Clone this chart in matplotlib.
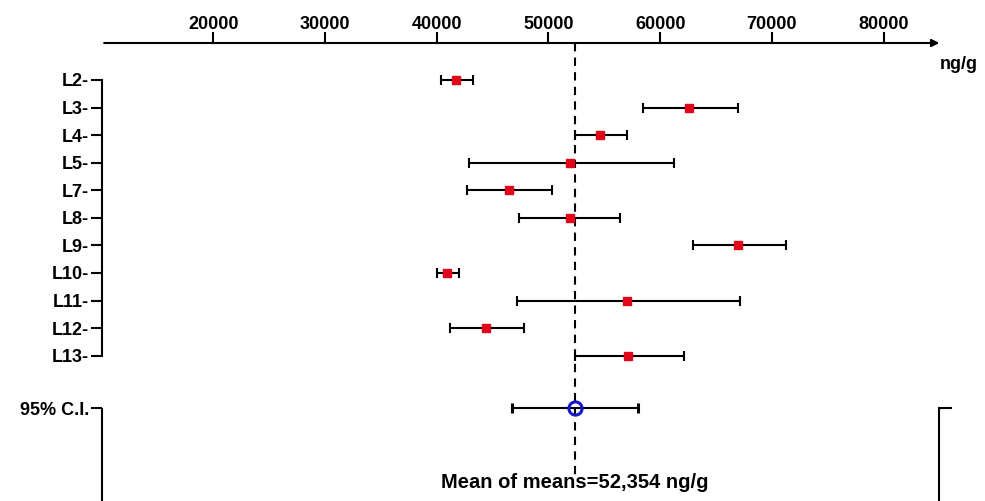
import matplotlib
matplotlib.use("Agg")
import matplotlib.pyplot as plt
import numpy as np
from matplotlib import font_manager

# ---- data ----
labs = ['L2', 'L3', 'L4', 'L5', 'L7', 'L8', 'L9', 'L10', 'L11', 'L12', 'L13']
means = [41700, 62600, 54600, 51900, 46500, 51900, 67000, 40900, 57000, 44400, 57150]
lows = [40360, 58500, 52350, 42900, 42700, 47350, 62950, 40000, 47200, 41150, 52400]
highs = [43220, 66950, 57050, 61200, 50350, 56450, 71250, 41950, 67150, 47800, 62150]
ci_label = '95% C.I.'
grand_mean = 52354
ci_low = 46700
ci_high = 58050
xticks = [20000, 30000, 40000, 50000, 60000, 70000, 80000]
unit = 'ng/g'

# ---- fonts ----
names = {f.name for f in font_manager.fontManager.ttflist}
base = 'Liberation Sans' if 'Liberation Sans' in names else 'DejaVu Sans'
narrow = 'Liberation Sans Narrow' if 'Liberation Sans Narrow' in names else base
plt.rcParams['font.family'] = [base, 'DejaVu Sans']

W, H = 985, 501
fig = plt.figure(figsize=(W / 100, H / 100), dpi=100)

# layout in pixels
x_left_px, x_right_px = 101.6, 939.4
top_px = 43
ax = fig.add_axes([x_left_px / W, 0, (x_right_px - x_left_px) / W, 1 - top_px / H])

row_pos = np.arange(len(labs), dtype=float)
ci_pos = 11.9
row0_px, step_px = 80.0, 27.57
y_top = (top_px - row0_px) / step_px
y_bot = (H - row0_px) / step_px
ax.set_xlim(10000, 85000)
ax.set_ylim(y_bot, y_top)

m = np.array(means, float)
lo = np.array(lows, float)
hi = np.array(highs, float)

ax.errorbar(m, row_pos, xerr=[m - lo, hi - m], fmt='s', ms=6, mfc='#e0061a', mec='#e0061a',
            ecolor='black', elinewidth=1.5, capsize=3.6, capthick=1.5, zorder=3)
ax.errorbar([grand_mean], [ci_pos], xerr=[[grand_mean - ci_low], [ci_high - grand_mean]], fmt='o',
            ms=9.5, mfc='none', mec='#1414c8', mew=2.2, ecolor='black', elinewidth=1.5,
            capsize=3.6, capthick=1.5, zorder=3)

# mean dashed line and label
text_pos = (483 - row0_px) / step_px
ax.vlines(grand_mean, y_top, text_pos - 0.3, colors='black', linestyles=(0, (4, 3)), lw=1.5, zorder=2)
ax.text(grand_mean, text_pos, f'Mean of means={grand_mean:,} {unit}', ha='center', va='center',
        fontsize=14.5 if narrow == base else 17, fontweight='bold',
        family=[narrow, 'DejaVu Sans'])

# spines
for s in ['top', 'bottom', 'right']:
    ax.spines[s].set_visible(False)
ax.spines['left'].set_bounds(row_pos[0], row_pos[-1])
ax.spines['left'].set_linewidth(1.5)
ax.plot([0, 0], [ci_pos, y_bot], transform=ax.get_yaxis_transform(), color='black', lw=1.5,
        clip_on=False, solid_capstyle='butt')

# top axis with arrow
ax.xaxis.tick_top()
ax.set_xticks(xticks)
ax.set_xticklabels([str(t) for t in xticks], fontsize=13, fontweight='bold')
ax.tick_params(axis='x', direction='out', length=8, width=1.5, pad=-0.5)
ax.annotate('', xy=(1.0, 1.0), xytext=(0.003, 1.0), xycoords='axes fraction',
            arrowprops=dict(arrowstyle='-|>', lw=1.5, color='black', mutation_scale=11,
                            shrinkA=0, shrinkB=0), annotation_clip=False)
ax.text(1.0, (65 - row0_px) / step_px, unit, transform=ax.get_yaxis_transform(), ha='left',
        va='center', fontsize=13, fontweight='bold')

# y ticks
ax.set_yticks(list(row_pos) + [ci_pos])
ax.set_yticklabels([l + '-' for l in labs] + [ci_label], fontsize=13, fontweight='bold')
ax.tick_params(axis='y', direction='out', length=8, width=1.5, pad=1)

# right bracket
ax2 = ax.twinx()
ax2.set_ylim(y_bot, y_top)
for s in ['top', 'bottom', 'left']:
    ax2.spines[s].set_visible(False)
ax2.spines['right'].set_bounds(ci_pos, y_bot)
ax2.spines['right'].set_linewidth(1.5)
ax2.set_yticks([ci_pos])
ax2.set_yticklabels([''])
ax2.tick_params(axis='y', direction='out', length=9, width=1.5)

fig.savefig('out.png', dpi=100)
